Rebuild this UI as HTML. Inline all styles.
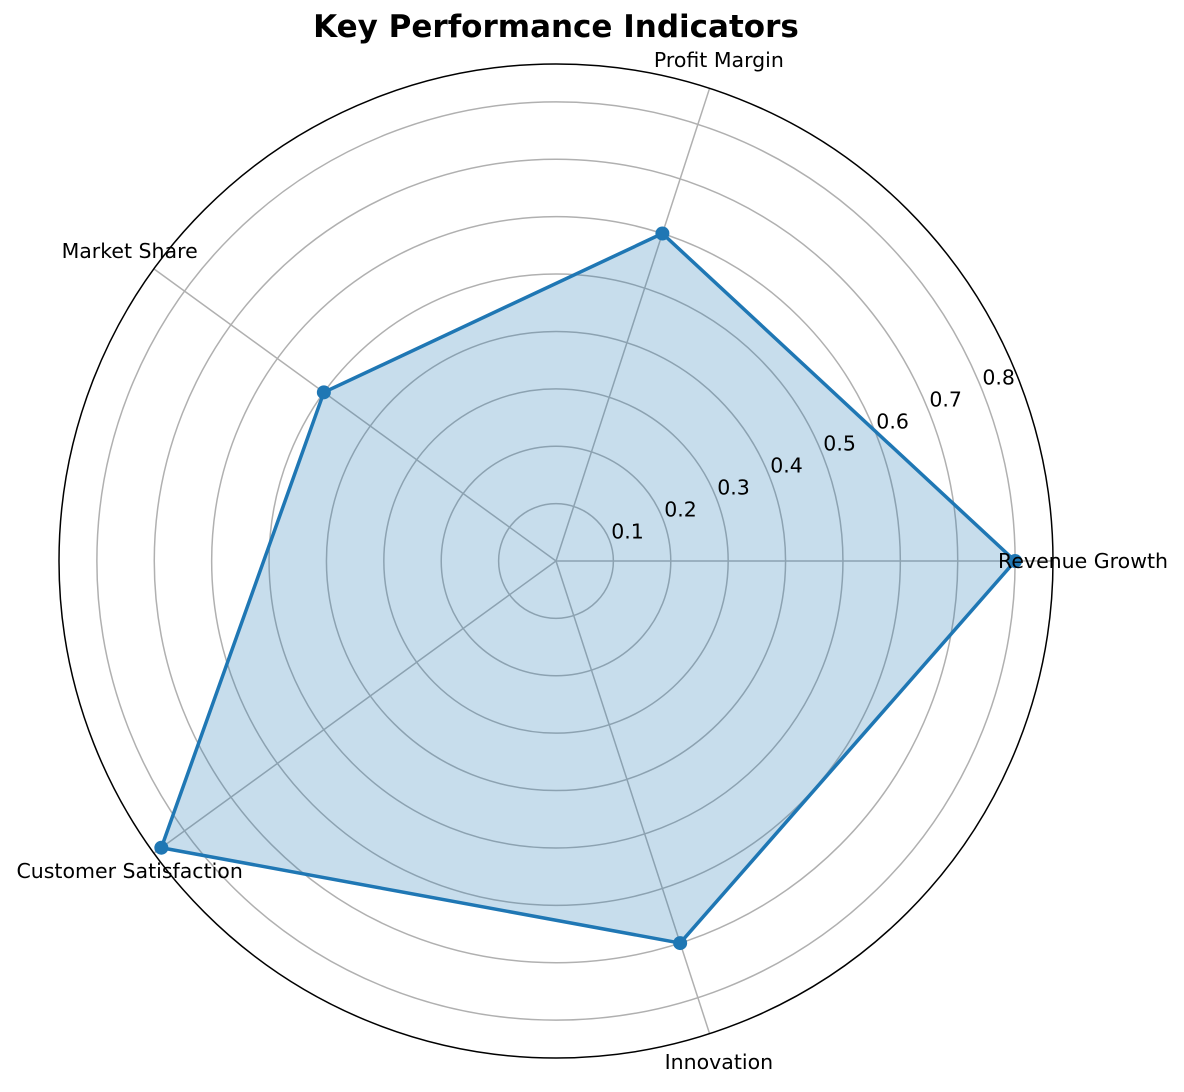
<!DOCTYPE html>
<html><head><meta charset="utf-8"><style>
body{margin:0;background:#fff;}
svg text{font-family:"DejaVu Sans","Liberation Sans",sans-serif;}
</style></head><body>
<svg id="chart" width="1184" height="1087" xmlns="http://www.w3.org/2000/svg">
<text x="556" y="37" text-anchor="middle" font-size="31" font-weight="bold">Key Performance Indicators</text>
</svg>
<script>
const categories=["Revenue Growth","Profit Margin","Market Share","Customer Satisfaction","Innovation"];
const values=[0.8,0.6,0.5,0.85,0.7];
const ticks=[0.1,0.2,0.3,0.4,0.5,0.6,0.7,0.8];
const tickLabels=["0.1","0.2","0.3","0.4","0.5","0.6","0.7","0.8"];
const rMax=0.866;
const cx=556,cy=561,R=497;
const svg=document.getElementById('chart');
const NS='http://www.w3.org/2000/svg';
function rs(v){return v/rMax*R;}
function ang(i){return i*2*Math.PI/categories.length;}
function pt(i,v){const a=ang(i),r=rs(v);return [cx+r*Math.cos(a),cy-r*Math.sin(a)];}
function mk(t,a){const e=document.createElementNS(NS,t);for(const k in a)e.setAttribute(k,a[k]);svg.appendChild(e);return e;}
ticks.forEach((t,i)=>{
 const c=mk('circle',{cx:cx,cy:cy,r:rs(t),fill:'none',stroke:'#b0b0b0','stroke-width':1.5});
 
 
});
categories.forEach((c,i)=>{
 const a=ang(i);
 const l=mk('line',{x1:cx,y1:cy,x2:cx+R*Math.cos(a),y2:cy-R*Math.sin(a),stroke:'#b0b0b0','stroke-width':1.5});
 
 
});
const o=mk('circle',{cx:cx,cy:cy,r:R,fill:'none',stroke:'#000','stroke-width':1.5});


const pts=values.map((v,i)=>pt(i,v).join(',')).join(' ');
const poly=mk('polygon',{points:pts,fill:'rgba(31,119,180,0.25)',stroke:'#1f77b4','stroke-width':3.5,'stroke-linejoin':'round'});


values.forEach((v,i)=>{
 const p=pt(i,v);
 const m=mk('circle',{cx:p[0],cy:p[1],r:7,fill:'#1f77b4'});
 
 
});
const ta=22.5*Math.PI/180;
ticks.forEach((t,i)=>{
 const r=rs(t)+20;
 const e=mk('text',{x:cx+r*Math.cos(ta),y:cy-r*Math.sin(ta)+7,'text-anchor':'middle','font-size':20.5});
 e.textContent=tickLabels[i];
 
 
});
categories.forEach((c,i)=>{
 const a=ang(i),r=527;
 const e=mk('text',{x:cx+r*Math.cos(a),y:cy-r*Math.sin(a)+7,'text-anchor':'middle','font-size':20.5});
 e.textContent=c;
 
 
});
</script>
</body></html>
